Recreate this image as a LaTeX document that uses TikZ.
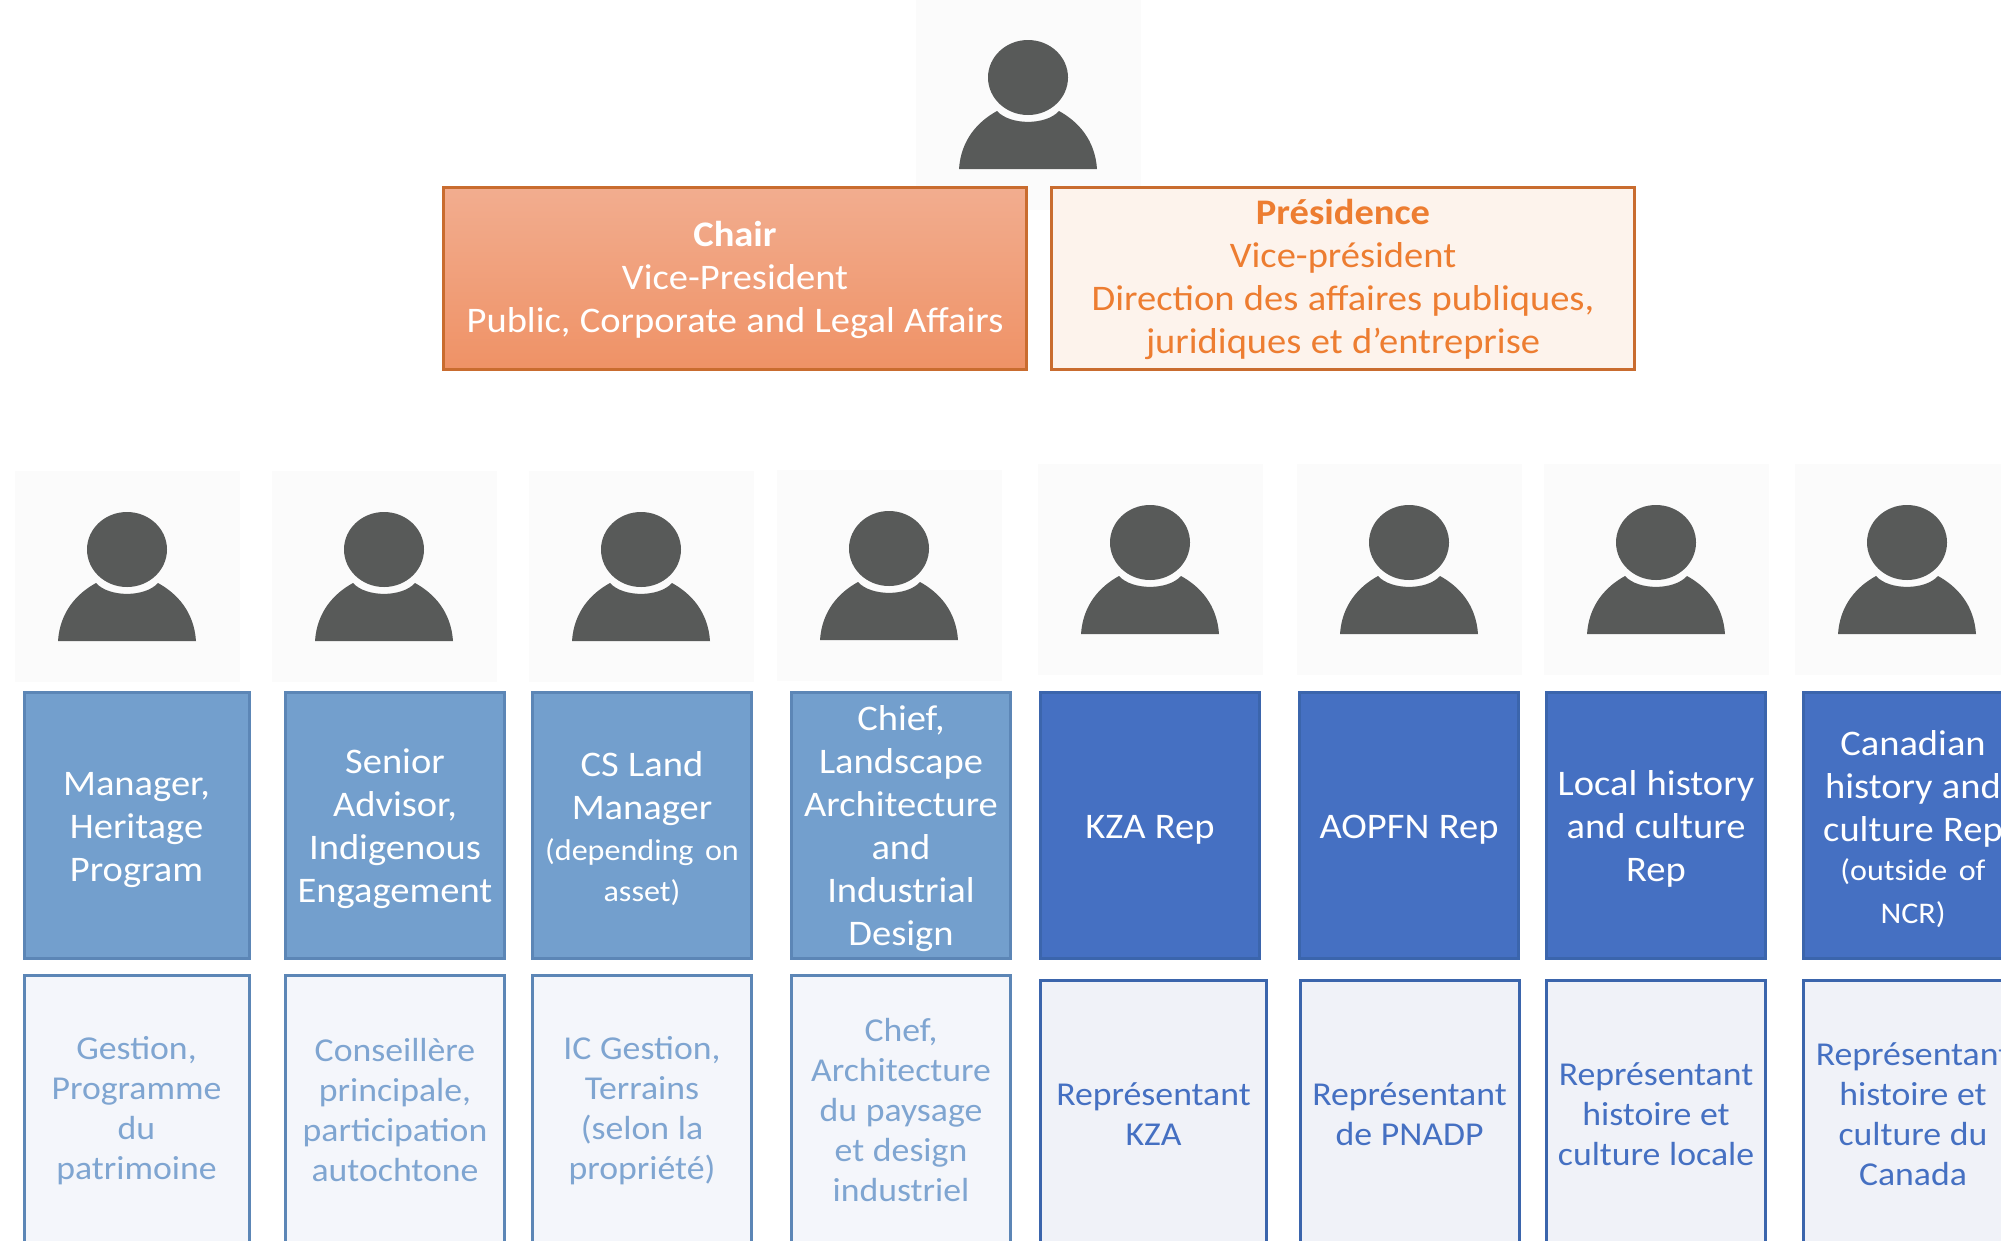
\documentclass[tikz,border=0pt]{standalone}
\usepackage{fontspec}
\setmainfont[FakeStretch=1.07]{Carlito}
\definecolor{tilegray}{HTML}{FBFBFB}
\definecolor{icongray}{HTML}{585A59}
\definecolor{orangeline}{HTML}{C96C2F}
\definecolor{orangetext}{HTML}{ED7D31}
\definecolor{chairtop}{HTML}{F2AD8F}
\definecolor{chairbottom}{HTML}{EF9266}
\definecolor{paleblue}{HTML}{739FCD}
\definecolor{palebluetext}{HTML}{7FA5D1}
\definecolor{palebluerim}{HTML}{5C86B6}
\definecolor{palebluefill}{HTML}{F4F6FB}
\definecolor{deepblue}{HTML}{4570C2}
\definecolor{deepbluerim}{HTML}{3B65AC}
\definecolor{deepbluefill}{HTML}{F0F2F8}
\newcommand{\smalltext}{\fontsize{30}{41}\selectfont\spaceskip=0.38em\relax}
\tikzset{
    x=1pt, y=-1pt,
    box/.style={draw, line width=3pt, inner sep=0pt, align=center, text width=#1, minimum width=#1, execute at begin node={\spaceskip=0.26em\relax}},
    topbox/.style={box=583pt, minimum height=182pt, draw=orangeline, font=\fontsize{36}{43}\selectfont, execute at begin node={\leavevmode\rule{0pt}{29pt}}},
    rolepale/.style={box=219pt, minimum height=265.5pt, draw=palebluerim, fill=paleblue, text=white, font=\fontsize{36}{43}\selectfont, execute at begin node={\leavevmode\rule{0pt}{32pt}}},
    roledeep/.style={box=219pt, minimum height=265.5pt, draw=deepbluerim, fill=deepblue, text=white, font=\fontsize{36}{43}\selectfont, execute at begin node={\leavevmode\rule{0pt}{32pt}}},
    frenchpale/.style={box=219pt, minimum height=270pt, draw=palebluerim, fill=palebluefill, text=palebluetext, font=\fontsize{33.4}{40}\selectfont},
    frenchdeep/.style={box=219pt, minimum height=268pt, draw=deepbluerim, fill=deepbluefill, text=deepblue, font=\fontsize{33.4}{40}\selectfont},
    person/.pic={
        \node[fill=tilegray, minimum width=225pt, minimum height=211pt, inner sep=0pt] (-tile) at (0,27) {};
        \fill[icongray] (-69,91.5) .. controls (-67,62) and (-50,44) .. (-31,33.5) .. controls (-18,48) and (18,48) .. (31,33.5) .. controls (50,44) and (67,62) .. (69,91.5) -- cycle;
        \fill[icongray] (0,0) ellipse [x radius=40, y radius=37.5];
    }
}
\begin{document}
\begin{tikzpicture}
    \useasboundingbox (0,0) rectangle (2001,1240);
    \clip (0,0) rectangle (2001,1240);
    \fill[white] (0,0) rectangle (2001,1240);
    % Person icons
    \foreach \n/\px/\py in {top/1028/77.5, a/127/549.5, b/384/549.5, c/641/549.5, d/889/548.5, e/1150/542.5, f/1409/542.5, g/1656/542.5, h/1907/542.5}
        \pic (\n) at (\px,\py) {person};
    % Chair boxes
    \node[topbox, top color=chairtop, bottom color=chairbottom, text=white] (chair) at (735,278) {\textbf{Chair}\\Vice-President\\Public, Corporate and Legal Affairs};
    \node[topbox, fill=orangetext!9!white, text=orangetext] (presidence) at (1343,278) {\textbf{Présidence}\\Vice-président\\Direction des affaires publiques,\\juridiques et d’entreprise};
    % English roles
    \node[rolepale, minimum width=225pt, text width=225pt] (manager) at (136.5,825.3) {Manager,\\Heritage\\Program};
    \node[rolepale] (advisor) at (395,825.3) {Senior\\Advisor,\\Indigenous\\Engagement};
    \node[rolepale] (land) at (642,825.3) {CS Land\\Manager\\[-2.5pt]{\smalltext (depending on}\\[-2pt]{\smalltext asset)}};
    \node[rolepale] (chief) at (901,825.3) {Chief,\\Landscape\\Architecture\\and\\Industrial\\Design};
    \node[roledeep] (kza) at (1150,825.3) {KZA Rep};
    \node[roledeep] (aopfn) at (1409,825.3) {AOPFN Rep};
    \node[roledeep] (local) at (1656,825.3) {Local history\\and culture\\Rep};
    \node[roledeep] (canadian) at (1913,825.3) {Canadian\\history and\\culture Rep\\[-4pt]{\smalltext (outside of}\\{\smalltext NCR)}};
    % French roles
    \node[frenchpale, minimum width=225pt, text width=225pt] (gestion) at (136.5,1110.5) {Gestion,\\Programme\\du\\patrimoine};
    \node[frenchpale] (conseillere) at (395,1110.5) {Conseillère\\principale,\\participation\\autochtone};
    \node[frenchpale] (terrains) at (642,1110.5) {IC Gestion,\\Terrains\\(selon la\\propriété)};
    \node[frenchpale] (chef) at (901,1110.5) {Chef,\\Architecture\\du paysage\\et design\\industriel};
    \node[frenchdeep, minimum width=226pt, text width=226pt] (repkza) at (1153.5,1114) {Représentant\\KZA};
    \node[frenchdeep] (reppnadp) at (1409.5,1114) {Représentant\\de PNADP};
    \node[frenchdeep] (replocal) at (1656,1114) {Représentant\\histoire et\\culture locale};
    \node[frenchdeep] (repcanada) at (1913,1114) {Représentant\\histoire et\\culture du\\Canada};
\end{tikzpicture}
\end{document}
